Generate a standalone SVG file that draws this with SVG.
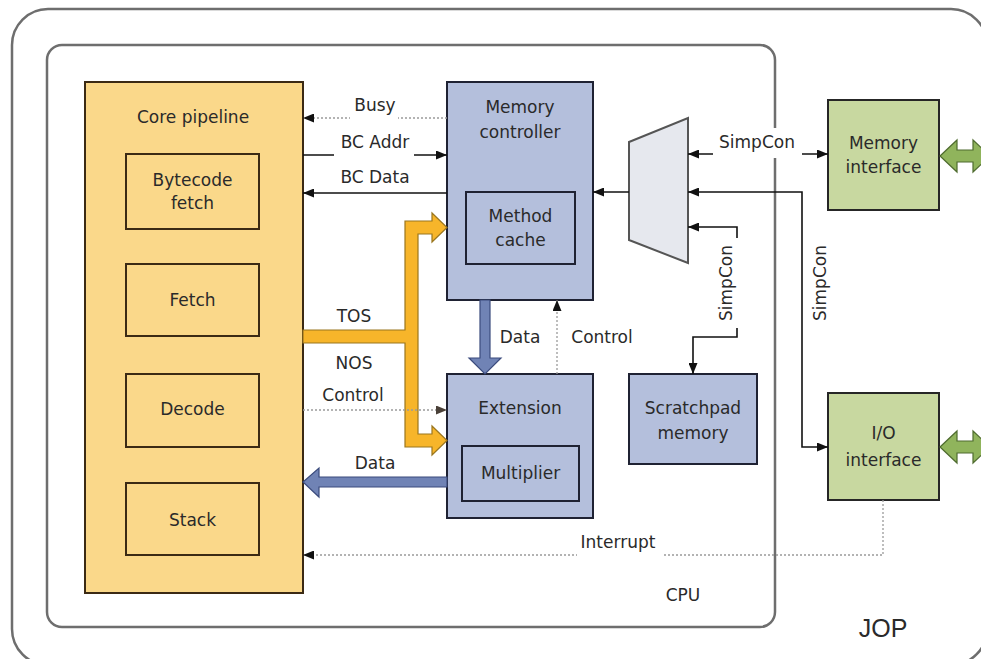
<svg xmlns="http://www.w3.org/2000/svg" width="981" height="659" viewBox="0 0 981 659">
<defs>
<style>
text{font-family:"DejaVu Sans","Liberation Sans",sans-serif;font-size:17px;fill:#2a2a2a;text-anchor:middle}
.frame{fill:none;stroke:#6e6e6e;stroke-width:2.5}
.core{fill:#FAD88A;stroke:#3b2a14;stroke-width:2}
.blue{fill:#B4BFDC;stroke:#1f2233;stroke-width:2}
.green{fill:#C8D8A0;stroke:#262626;stroke-width:2}
.mux{fill:#E6E8EE;stroke:#555;stroke-width:2}
.solid{fill:none;stroke:#111;stroke-width:1.6}
.dot{fill:none;stroke:#9a9a9a;stroke-width:1.3;stroke-dasharray:2 2}
.bg{fill:#fff}
.obus{fill:#F7B52A;stroke:#9a761e;stroke-width:1.2}
.bbus{fill:#7083B5;stroke:#3b4b7d;stroke-width:1.2}
.gbus{fill:#90B45C;stroke:#4e6b2e;stroke-width:1.2}
</style>
<marker id="ah" markerWidth="11" markerHeight="9" refX="11" refY="4.5" orient="auto-start-reverse" markerUnits="userSpaceOnUse"><path d="M0,0 L11,4.5 L0,9 z" fill="#111"/></marker>
<marker id="ahd" markerWidth="11" markerHeight="9" refX="11" refY="4.5" orient="auto-start-reverse" markerUnits="userSpaceOnUse"><path d="M0,0 L11,4.5 L0,9 z" fill="#4a4038"/></marker>
</defs>
<rect width="981" height="659" fill="#fff"/>
<g id="jop"><rect class="frame" x="12" y="9" width="975" height="656" rx="36"/><text x="883" y="637" style="font-size:25px;font-family:'Liberation Sans',sans-serif">JOP</text></g>
<g id="cpu"><rect class="frame" x="47" y="45" width="728" height="582" rx="15"/><text x="683" y="601">CPU</text></g>
<g id="core-pipeline"><rect class="core" x="85" y="82" width="218" height="511"/><text x="193" y="123">Core pipeline</text></g>
<g id="bytecode-fetch"><rect class="core" x="126" y="154" width="133" height="75"/><text x="192.5" y="186">Bytecode</text><text x="192.5" y="209">fetch</text></g>
<g id="fetch"><rect class="core" x="126" y="264" width="133" height="72"/><text x="192.5" y="306">Fetch</text></g>
<g id="decode"><rect class="core" x="126" y="374" width="133" height="73"/><text x="192.5" y="415">Decode</text></g>
<g id="stack"><rect class="core" x="126" y="483" width="133" height="72"/><text x="192.5" y="526">Stack</text></g>
<g id="memory-controller"><rect class="blue" x="447" y="82" width="146" height="218"/><text x="520" y="113">Memory</text><text x="520" y="138">controller</text></g>
<g id="method-cache"><rect class="blue" x="466" y="192" width="109" height="72"/><text x="520.5" y="222">Method</text><text x="520.5" y="246">cache</text></g>
<g id="extension"><rect class="blue" x="447" y="374" width="146" height="144"/><text x="520" y="414">Extension</text></g>
<g id="multiplier"><rect class="blue" x="462" y="446" width="117" height="55"/><text x="520.5" y="479">Multiplier</text></g>
<g id="scratchpad"><rect class="blue" x="629" y="374" width="128" height="90"/><text x="693" y="414">Scratchpad</text><text x="693" y="439">memory</text></g>
<g id="mux"><polygon class="mux" points="629,142 688,118 688,263 629,240"/></g>
<g id="memory-interface"><rect class="green" x="828" y="100" width="111" height="110"/><text x="883.5" y="149">Memory</text><text x="883.5" y="173">interface</text></g>
<g id="io-interface"><rect class="green" x="828" y="393" width="111" height="107"/><text x="883.5" y="439">I/O</text><text x="883.5" y="466">interface</text></g>
<g id="connectors">
<line class="dot" x1="447" y1="118" x2="303" y2="118" marker-end="url(#ah)"/>
<rect class="bg" x="350" y="95" width="48" height="25"/><text x="375" y="111">Busy</text>
<line class="solid" x1="303" y1="155" x2="447" y2="155" marker-end="url(#ah)"/>
<rect class="bg" x="334" y="131" width="80" height="27"/><text x="375" y="148">BC Addr</text>
<line class="solid" x1="447" y1="193" x2="303" y2="193" marker-end="url(#ah)"/>
<text x="375" y="183">BC Data</text>
<path class="obus" d="M303,330 L405,330 L405,221 L432,221 L432,213 L447,227.5 L432,242 L432,234 L418,234 L418,434 L432,434 L432,426 L447,440.5 L432,455 L432,447 L405,447 L405,343 L303,343 Z"/>
<text x="354" y="322">TOS</text>
<text x="354" y="369">NOS</text>
<line class="dot" x1="303" y1="410" x2="447" y2="410" marker-end="url(#ahd)"/>
<text x="353" y="401">Control</text>
<polygon class="bbus" points="447,477 319,477 319,468 303,482 319,497 319,487 447,487"/>
<text x="375" y="469">Data</text>
<polygon class="bbus" points="480,300 490,300 490,358 501,358 485,374 469,358 480,358"/>
<text x="520" y="343">Data</text>
<line class="dot" x1="557" y1="374" x2="557" y2="300" marker-end="url(#ah)"/>
<text x="602" y="343">Control</text>
<line class="solid" x1="629" y1="192" x2="593" y2="192" marker-end="url(#ah)"/>
<line class="solid" x1="688" y1="154" x2="828" y2="154" marker-start="url(#ah)" marker-end="url(#ah)"/>
<rect class="bg" x="713" y="128" width="89" height="30"/><text x="757" y="148">SimpCon</text>
<polyline class="solid" points="688,192 802,192 802,447 828,447" marker-start="url(#ah)" marker-end="url(#ah)"/>
<text transform="translate(826,283) rotate(-90)">SimpCon</text>
<polyline class="solid" points="688,227 737,227 737,337 693,337 693,374" marker-start="url(#ah)" marker-end="url(#ah)"/>
<rect class="bg" x="715" y="238" width="25" height="90"/><text transform="translate(732,283) rotate(-90)">SimpCon</text>
<polyline class="dot" points="883,500 883,555 303,555" marker-end="url(#ah)"/>
<rect class="bg" x="577" y="530" width="85" height="27"/><text x="618" y="548">Interrupt</text>
<polygon class="gbus" points="940,156 957,140 957,150 973,150 973,140 990,156 973,172 973,162 957,162 957,172"/>
<polygon class="gbus" points="940,447 957,431 957,441 973,441 973,431 990,447 973,463 973,453 957,453 957,463"/>
</g>
</svg>
